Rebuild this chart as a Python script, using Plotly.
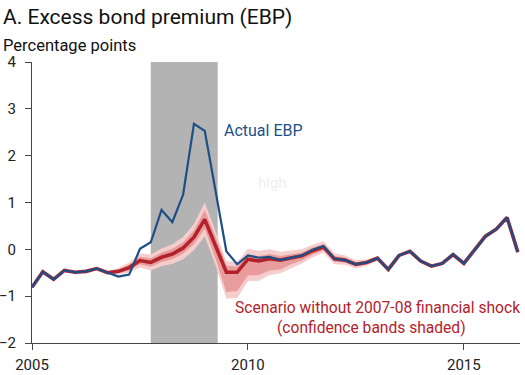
import plotly.graph_objects as go

# Quarterly dates 2005Q1 .. 2016Q2 (decimal years)
quarters = [2005 + 0.25 * i for i in range(46)]

actual_ebp = [-0.81, -0.48, -0.64, -0.45, -0.49, -0.47, -0.41, -0.50, -0.58, -0.54,
              0.01, 0.15, 0.84, 0.58, 1.17, 2.68, 2.53, 1.25, -0.04, -0.32,
              -0.13, -0.18, -0.16, -0.23, -0.18, -0.13, -0.01, 0.07, -0.20, -0.23,
              -0.32, -0.28, -0.19, -0.43, -0.13, -0.04, -0.25, -0.36, -0.30, -0.11,
              -0.30, 0.00, 0.28, 0.43, 0.68, -0.06]

scenario = [-0.81, -0.48, -0.64, -0.45, -0.49, -0.47, -0.41, -0.50, -0.47, -0.39,
            -0.24, -0.28, -0.17, -0.10, 0.03, 0.26, 0.64, 0.08, -0.49, -0.49,
            -0.21, -0.25, -0.20, -0.23, -0.18, -0.14, -0.03, 0.05, -0.20, -0.23,
            -0.32, -0.28, -0.19, -0.43, -0.13, -0.04, -0.25, -0.36, -0.30, -0.11,
            -0.30, 0.00, 0.28, 0.43, 0.68, -0.06]

# Confidence bands (2006Q4 .. 2013Q3)
band_quarters = quarters[7:35]
inner_low = [-0.52, -0.51, -0.45, -0.32, -0.37, -0.27, -0.21, -0.09, 0.11, 0.44,
             -0.20, -0.91, -0.89, -0.56, -0.55, -0.45, -0.43, -0.32, -0.24, -0.11,
             -0.02, -0.26, -0.28, -0.36, -0.31, -0.21, -0.44, -0.13]
inner_high = [-0.48, -0.43, -0.33, -0.16, -0.19, -0.07, 0.01, 0.15, 0.41, 0.84,
              0.28, -0.35, -0.37, -0.11, -0.15, -0.10, -0.14, -0.10, -0.07, 0.04,
              0.11, -0.14, -0.18, -0.28, -0.25, -0.17, -0.42, -0.13]
outer_low = [-0.53, -0.54, -0.50, -0.39, -0.45, -0.36, -0.31, -0.21, -0.02, 0.28,
             -0.34, -1.05, -1.04, -0.68, -0.67, -0.55, -0.51, -0.40, -0.30, -0.17,
             -0.07, -0.32, -0.33, -0.41, -0.35, -0.24, -0.47, -0.15]
outer_high = [-0.47, -0.40, -0.28, -0.09, -0.11, 0.02, 0.11, 0.27, 0.54, 1.00,
              0.38, -0.25, -0.27, 0.01, -0.03, 0.00, -0.05, -0.02, 0.00, 0.10,
              0.17, -0.08, -0.13, -0.23, -0.21, -0.14, -0.39, -0.11]

recession = [2007.75, 2009.3]
y_ticks = [-2, -1, 0, 1, 2, 3, 4]
x_ticks = [2005, 2010, 2015]

FONT = "Roboto"
BLUE = "#1d4f86"
RED = "#b3222b"

fig = go.Figure()

# outer band
fig.add_trace(go.Scatter(x=band_quarters, y=outer_low, mode="lines",
                         line=dict(width=0), hoverinfo="skip", showlegend=False))
fig.add_trace(go.Scatter(x=band_quarters, y=outer_high, mode="lines",
                         line=dict(width=0), fill="tonexty",
                         fillcolor="#f5cdcd", hoverinfo="skip", showlegend=False))
# inner band
fig.add_trace(go.Scatter(x=band_quarters, y=inner_low, mode="lines",
                         line=dict(width=0), hoverinfo="skip", showlegend=False))
fig.add_trace(go.Scatter(x=band_quarters, y=inner_high, mode="lines",
                         line=dict(width=0), fill="tonexty",
                         fillcolor="#e99c9c", hoverinfo="skip", showlegend=False))

fig.add_trace(go.Scatter(x=quarters, y=scenario, mode="lines",
                         line=dict(color=RED, width=3.6), showlegend=False))
fig.add_trace(go.Scatter(x=quarters, y=actual_ebp, mode="lines",
                         line=dict(color=BLUE, width=2.2), showlegend=False))

fig.add_shape(type="rect", xref="x", yref="y", x0=recession[0], x1=recession[1],
              y0=-2, y1=4, fillcolor="#b3b3b3", line=dict(width=0), layer="below")

fig.add_annotation(x=-0.063, y=1.16, xref="paper", yref="paper", xanchor="left",
                   yanchor="middle", showarrow=False, text="A. Excess bond premium (EBP)",
                   font=dict(family=FONT, size=21, color="#111111"))
fig.add_annotation(x=-0.063, y=1.06, xref="paper", yref="paper", xanchor="left",
                   yanchor="middle", showarrow=False, text="Percentage points",
                   font=dict(family=FONT, size=16.5, color="#111111"))
fig.add_annotation(x=2009.40, y=2.53, xanchor="left", yanchor="middle", showarrow=False,
                   text="Actual EBP", font=dict(family=FONT, size=16, color=BLUE))
fig.add_annotation(x=2010.56, y=1.42, xanchor="center", yanchor="middle", showarrow=False,
                   text="high", font=dict(family=FONT, size=15, color="#efefef"))
fig.add_annotation(x=2013.0, y=-1.25, xanchor="center", yanchor="middle", showarrow=False,
                   text="Scenario without 2007-08 financial shock",
                   font=dict(family=FONT, size=15.6, color=RED))
fig.add_annotation(x=2012.865, y=-1.68, xanchor="center", yanchor="middle", showarrow=False,
                   text="(confidence bands shaded)",
                   font=dict(family=FONT, size=15.6, color=RED))

fig.update_layout(
    width=525, height=375,
    margin=dict(l=32, r=5, t=62, b=32),
    paper_bgcolor="white", plot_bgcolor="white",
    font=dict(family=FONT, size=15, color="#222222"),
    showlegend=False,
)
fig.update_xaxes(range=[2005, 2016.3], tickvals=x_ticks, ticktext=[str(t) for t in x_ticks],
                 showgrid=False, zeroline=False, showline=True, linecolor="#444444",
                 linewidth=1, ticks="outside", ticklen=6, tickcolor="#444444",
                 ticklabelstandoff=2, automargin=False,
                 tickfont=dict(family=FONT, size=15, color="#222222"))
fig.update_yaxes(range=[-2, 4], tickvals=y_ticks, showgrid=False, zeroline=False,
                 showline=True, linecolor="#444444", linewidth=1, ticks="outside",
                 ticklen=6, tickcolor="#444444", ticklabelstandoff=6, automargin=False,
                 tickfont=dict(family=FONT, size=15, color="#222222"))

fig.write_html("out.html", config={"displayModeBar": False},
               post_script="document.body.style.margin='0';document.body.style.overflow='hidden';")
